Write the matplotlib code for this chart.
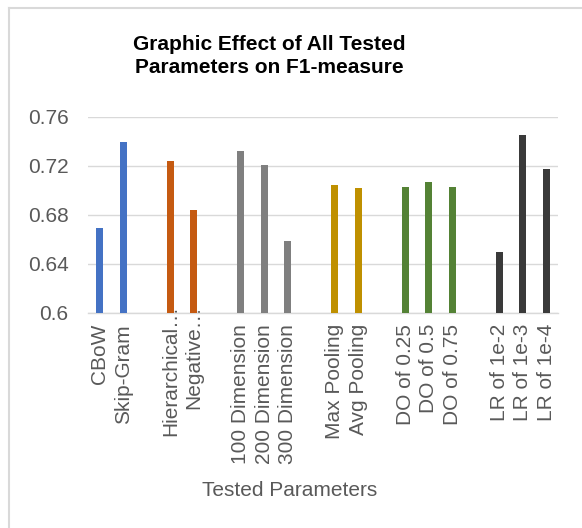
import numpy as np
import matplotlib
matplotlib.use("Agg")
from matplotlib import pyplot as plt
from matplotlib.lines import Line2D
from matplotlib.transforms import ScaledTranslation

plt.rcParams["font.family"] = ["Liberation Sans", "DejaVu Sans"]

# grupos de parametros (un hueco entre cada grupo)
groups = [
    ["CBoW", "Skip-Gram"],
    ["Hierarchical…", "Negative…"],
    ["100 Dimension", "200 Dimension", "300 Dimension"],
    ["Max Pooling", "Avg Pooling"],
    ["DO of 0.25", "DO of 0.5", "DO of 0.75"],
    ["LR of 1e-2", "LR of 1e-3", "LR of 1e-4"],
]
f1_values = [
    [0.669, 0.739],
    [0.724, 0.684],
    [0.732, 0.721, 0.659],
    [0.704, 0.702],
    [0.703, 0.707, 0.703],
    [0.650, 0.745, 0.717],
]
group_colors = ["#4472C4", "#C55A11", "#7F7F7F", "#BF9000", "#548235", "#3A3A3A"]
yticks = [0.6, 0.64, 0.68, 0.72, 0.76]

labels = []
x = []
y = []
colors = []
pos = 0
for names, vals, col in zip(groups, f1_values, group_colors):
    for n, v in zip(names, vals):
        labels.append(n)
        x.append(pos)
        y.append(v)
        colors.append(col)
        pos += 1
    pos += 1  # hueco
n_slots = pos - 1

fig = plt.figure(figsize=(5.82, 5.28), dpi=100)
ax = fig.add_axes([88 / 582, 1 - 313 / 528, 470 / 582, (313 - 116.7) / 528])

ax.bar(x, np.array(y) - 0.6, bottom=0.6, width=0.31, color=colors, zorder=3)

ax.set_xlim(-0.5, n_slots - 0.5)
ax.set_ylim(0.6, 0.76)
ax.set_yticks(yticks)
ax.set_yticklabels(["0.6", "0.64", "0.68", "0.72", "0.76"])
ax.set_xticks(x)
ax.set_xticklabels(labels, rotation=90, va="top", ha="center")

ax.grid(axis="y", color="#D9D9D9", linewidth=1.0, zorder=0)
for s in ["top", "right", "left"]:
    ax.spines[s].set_visible(False)
ax.spines["bottom"].set_color("#D9D9D9")
ax.spines["bottom"].set_linewidth(1.0)
ax.tick_params(axis="both", length=0, labelsize=15, labelcolor="#595959")
ax.tick_params(axis="y", pad=14)
ax.tick_params(axis="x", pad=8)

# los puntos suspensivos sobresalen hacia arriba como en Excel
for lab in ax.get_xticklabels():
    if lab.get_text().endswith("…"):
        lab.set_transform(lab.get_transform() + ScaledTranslation(0, 19 / 100, fig.dpi_scale_trans))

fig.text(269 / 582, 1 - 56 / 528, "Graphic Effect of All Tested\nParameters on F1-measure",
         ha="center", va="center", fontsize=15, fontweight="bold", color="black",
         linespacing=1.32)
fig.text(290 / 582, 1 - 490 / 528, "Tested Parameters", ha="center", va="center",
         fontsize=15, color="#595959")

# borde del area del grafico (solo arriba e izquierda visibles)
fig.add_artist(Line2D([9 / 582, 9 / 582], [0, 1 - 8 / 528], transform=fig.transFigure,
                      color="#D9D9D9", linewidth=1.5))
fig.add_artist(Line2D([9 / 582, 1], [1 - 8 / 528, 1 - 8 / 528], transform=fig.transFigure,
                      color="#D9D9D9", linewidth=1.5))

plt.savefig("out.png", dpi=100)
